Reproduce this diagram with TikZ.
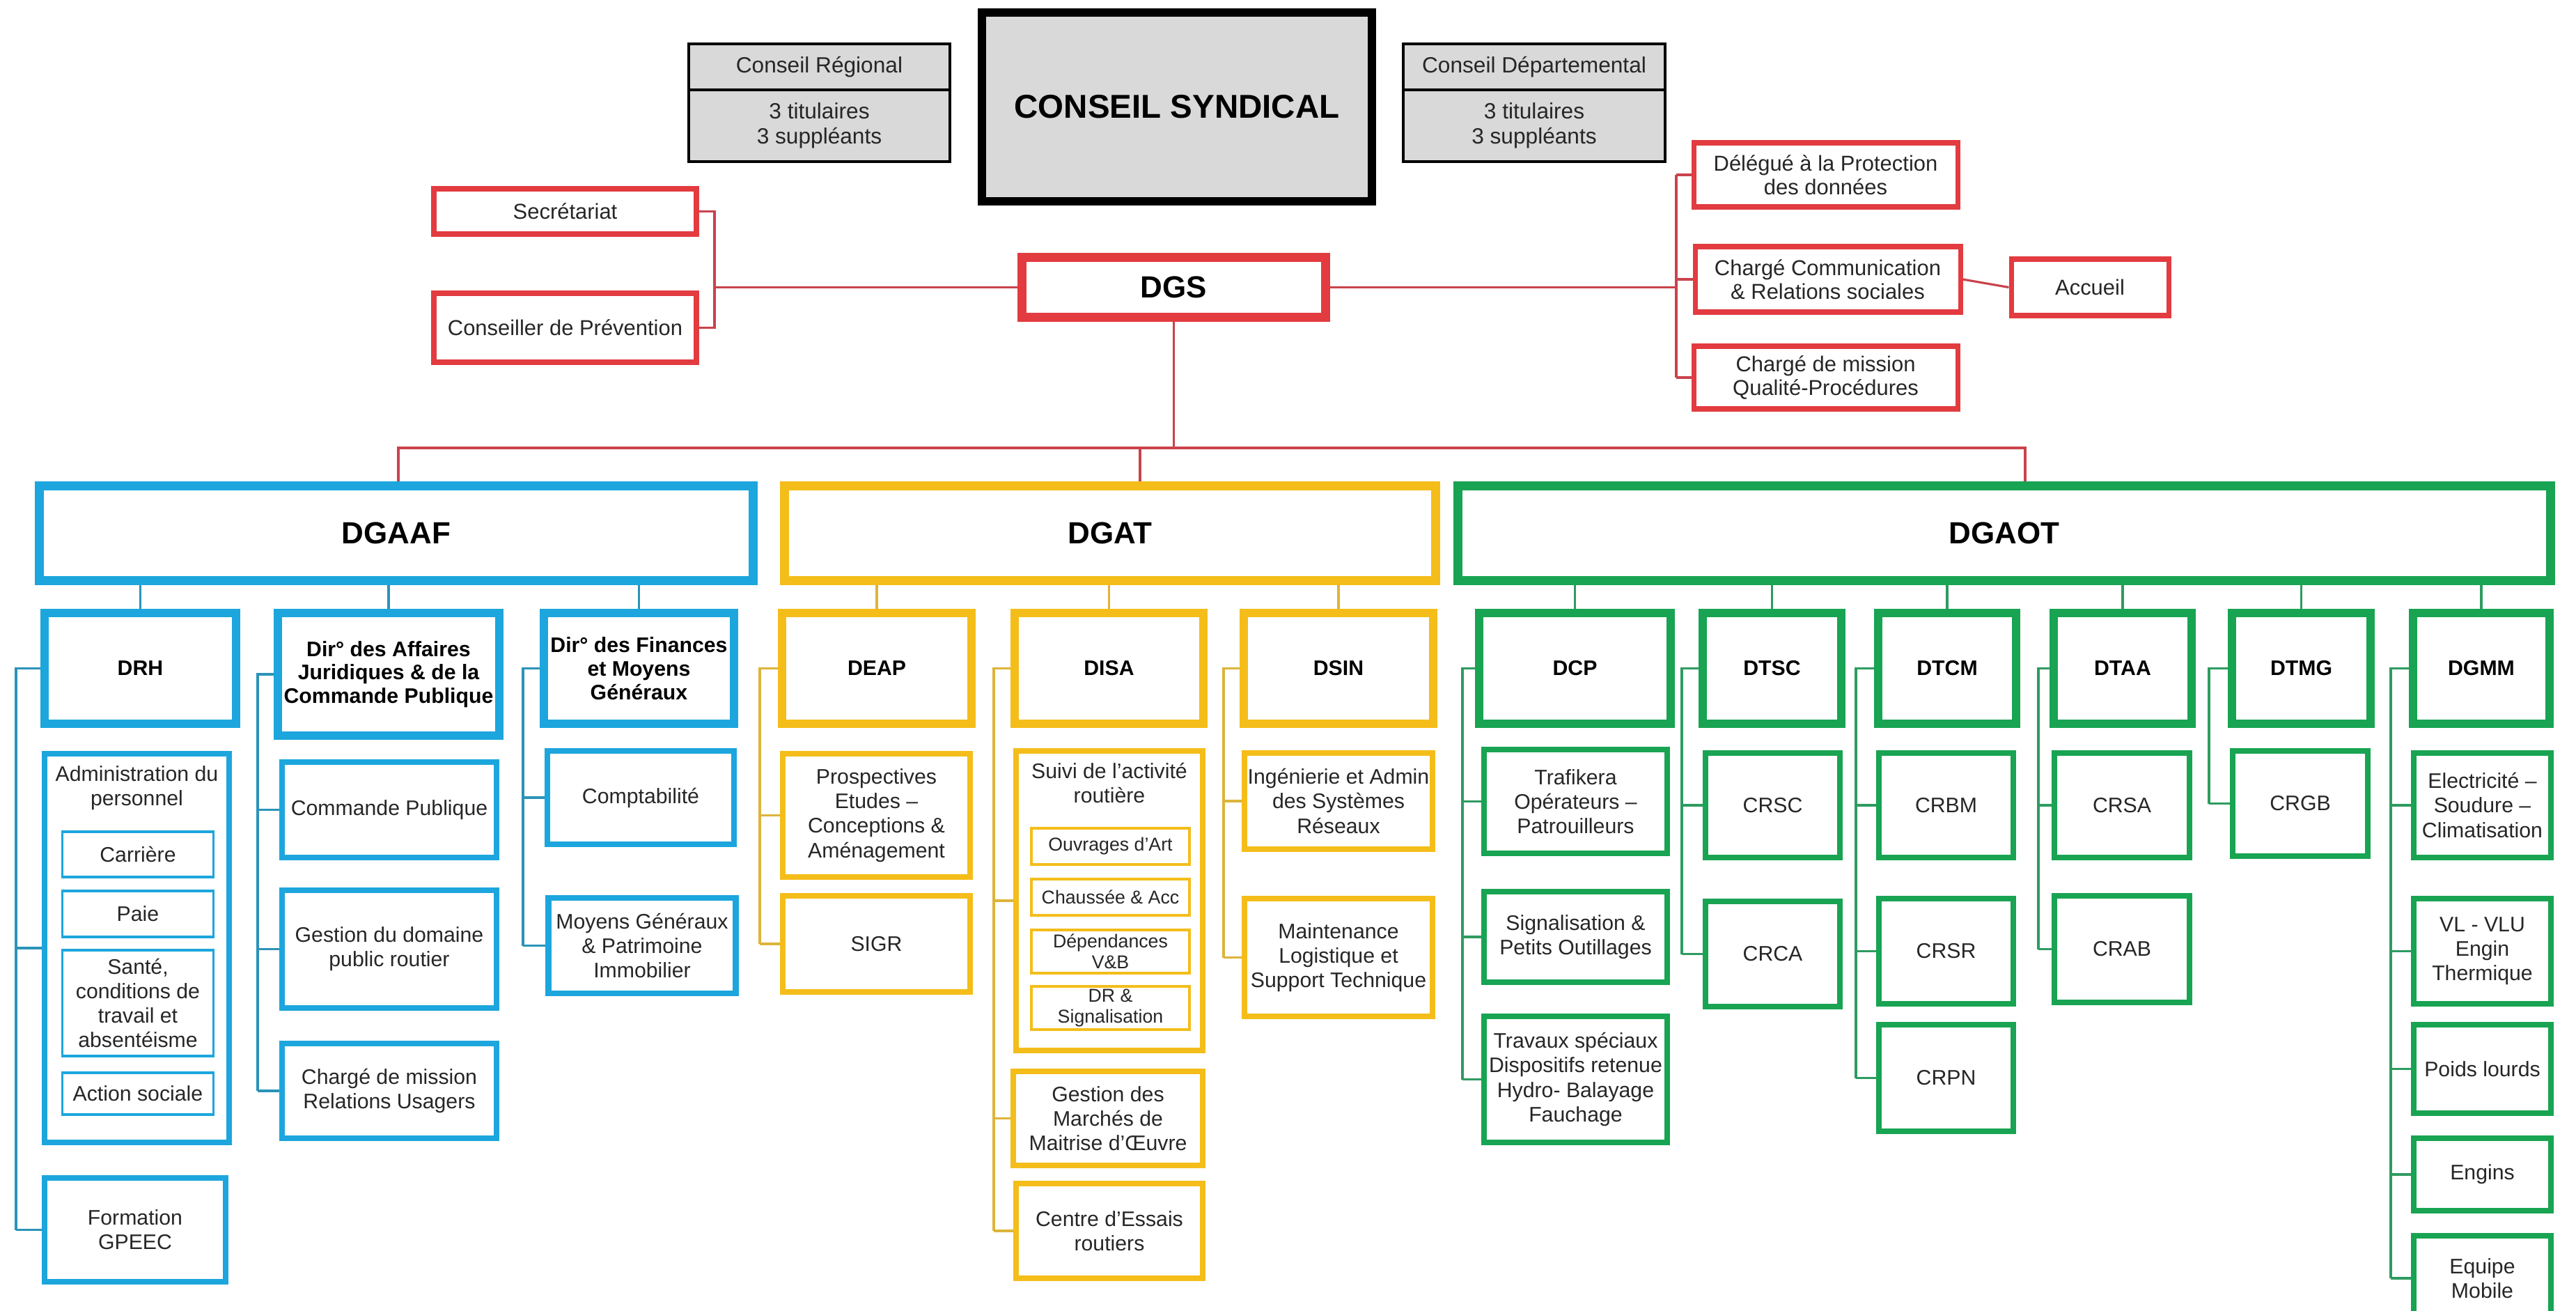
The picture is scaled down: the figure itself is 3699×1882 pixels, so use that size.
\documentclass[tikz,border=0pt]{standalone}
\usepackage{fontspec}
\setmainfont{Liberation Sans}
\definecolor{grisfond}{HTML}{D9D9D9}
\definecolor{rouge}{HTML}{E23B40}
\definecolor{rougetrait}{HTML}{C9434C}
\definecolor{bleu}{HTML}{1CA6DD}
\definecolor{bleutrait}{HTML}{2B93B8}
\definecolor{jaune}{HTML}{F4BD1A}
\definecolor{jaunetrait}{HTML}{DDB43A}
\definecolor{vert}{HTML}{18A452}
\definecolor{verttrait}{HTML}{2E9B60}
\definecolor{texte}{HTML}{262626}
\begin{document}
\begin{tikzpicture}[x=0.01cm,y=-0.01cm,line width=0.9pt,
  every node/.style={font=\fontsize{8.6}{10}\selectfont,align=center,inner sep=0pt,text=texte},
  sz/.style 2 args={minimum width=#1*0.01cm,minimum height=#2*0.01cm},
  gris/.style={draw=black,fill=grisfond,line width=1.3pt,font=\fontsize{9}{10.2}\selectfont},
  rbox/.style={draw=rouge,line width=2pt,font=\fontsize{8.8}{9.6}\selectfont},
  rlien/.style={draw=rougetrait,line width=0.9pt},
  pole/.style={draw=#1,line width=3.7pt,font=\bfseries\fontsize{12.5}{14}\selectfont,text=black},
  chef/.style={draw=#1,line width=3.5pt,font=\bfseries\fontsize{8.6}{9.6}\selectfont,text=black},
  svc/.style={draw=#1,line width=2.3pt},
  cell/.style={draw=#1,line width=1.1pt},
  lien/.style={draw=#1,line width=0.9pt},
  ttl/.style={anchor=north,align=center,inner sep=0pt,yshift=-0.2cm}]
\useasboundingbox (0,0) rectangle (3699,1882);
\node[gris,sz={375}{66}] (cr) at (1176.5,96) {Conseil Régional};
\node[gris,sz={375}{103}] (crn) at (1176.5,180.5) {3 titulaires\\3 suppléants};
\node[gris,line width=3.3pt,sz={560}{271},font=\bfseries\fontsize{13.5}{16}\selectfont,text=black] (cs) at (1690,153.5) {CONSEIL SYNDICAL};
\node[gris,sz={376}{66}] (cd) at (2203,96) {Conseil Départemental};
\node[gris,sz={376}{103}] (cdn) at (2203,180.5) {3 titulaires\\3 suppléants};
\node[rbox,sz={377}{65}] (secr) at (811.5,303.5) {Secrétariat};
\node[rbox,sz={377}{99}] (cdp) at (811.5,470.5) {Conseiller de Prévention};
\node[rbox,line width=3.5pt,sz={436}{86},font=\bfseries\fontsize{12.5}{14}\selectfont,text=black] (dgs) at (1685.5,412.5) {DGS};
\node[rbox,sz={379}{92}] (dpd) at (2621.5,251) {Délégué à la Protection\\des données};
\node[rbox,sz={381}{94}] (ccom) at (2624.5,401) {Chargé Communication\\\& Relations sociales};
\node[rbox,sz={379}{90}] (cmq) at (2621.5,542) {Chargé de mission\\Qualité-Procédures};
\node[rbox,sz={226}{81}] (acc) at (3001,412.5) {Accueil};
\coordinate (gB) at (1026,0);
\coordinate (dB) at (2407,0);
\draw[rlien] (secr.east) -- (secr.east -| gB) -- (cdp.east -| gB) -- (cdp.east);
\draw[rlien] (dgs.west) -- (dgs.west -| gB);
\draw[rlien] (dgs.east) -- (dgs.east -| dB);
\draw[rlien] (dpd.west -| dB) -- (cmq.west -| dB);
\foreach \n in {dpd,ccom,cmq} \draw[rlien] (\n.west -| dB) -- (\n.west);
\draw[rlien] (ccom.east) -- (acc.west);
\node[pole=bleu,sz={1025}{136}] (dgaaf) at (569,765.5) {DGAAF};
\node[pole=jaune,sz={935}{136}] (dgat) at (1594,765.5) {DGAT};
\node[pole=vert,sz={1569}{136}] (dgaot) at (2878,765.5) {DGAOT};
\coordinate (busG) at (572,643);
\coordinate (busC) at (1637,643);
\coordinate (busD) at (2908,643);
\draw[rlien] (dgs.south) -- (dgs.south |- busG);
\draw[rlien] (busG |- dgaaf.north) -- (busG) -- (busD) -- (busD |- dgaot.north);
\draw[rlien] (busC) -- (busC |- dgat.north);
\begin{scope}
\node[chef=bleu,sz={275}{159}] (drh) at (201.5,959.5) {DRH};
\node[chef=bleu,sz={318}{176}] (daj) at (558,968) {Dir° des Affaires\\Juridiques \& de la\\Commande Publique};
\node[chef=bleu,sz={273}{159}] (dfin) at (917.5,959.5) {Dir° des Finances\\et Moyens\\Généraux};
\node[svc=bleu,sz={265}{558},label={[ttl]north:{Administration du\\personnel}}] (adm) at (196.5,1361) {};
\node[cell=bleu,sz={217}{65}] (car) at (198,1226.5) {Carrière};
\node[cell=bleu,sz={217}{66}] (paie) at (198,1312) {Paie};
\node[cell=bleu,sz={217}{152}] (sante) at (198,1440) {Santé,\\conditions de\\travail et\\absentéisme};
\node[cell=bleu,sz={217}{60}] (acs) at (198,1570) {Action sociale};
\node[svc=bleu,sz={260}{149}] (form) at (194,1765.5) {Formation\\GPEEC};
\node[svc=bleu,sz={308}{137}] (cmdp) at (559,1162.5) {Commande Publique};
\node[svc=bleu,sz={308}{169}] (gdpr) at (559,1362.5) {Gestion du domaine\\public routier};
\node[svc=bleu,sz={308}{136}] (cmru) at (559,1566) {Chargé de mission\\Relations Usagers};
\node[svc=bleu,sz={268}{134}] (compta) at (920,1145) {Comptabilité};
\node[svc=bleu,sz={269}{137}] (mgpi) at (922,1357.5) {Moyens Généraux\\\& Patrimoine\\Immobilier};
\foreach \n in {drh,daj,dfin} \draw[lien=bleutrait] (\n.north) -- (\n.north |- dgaaf.south);
\coordinate (drhB) at (23,0);
\coordinate (dajB) at (370,0);
\coordinate (dfinB) at (751,0);
\draw[lien=bleutrait] (drh.west) -- (drh.west -| drhB) -- (form.west -| drhB);
\foreach \n in {adm,form} \draw[lien=bleutrait] (\n.west -| drhB) -- (\n.west);
\draw[lien=bleutrait] (daj.west) -- (daj.west -| dajB) -- (cmru.west -| dajB);
\foreach \n in {cmdp,gdpr,cmru} \draw[lien=bleutrait] (\n.west -| dajB) -- (\n.west);
\draw[lien=bleutrait] (dfin.west) -- (dfin.west -| dfinB) -- (mgpi.west -| dfinB);
\foreach \n in {compta,mgpi} \draw[lien=bleutrait] (\n.west -| dfinB) -- (\n.west);
\end{scope}
\begin{scope}
\node[chef=jaune,sz={272}{159}] (deap) at (1259,959.5) {DEAP};
\node[chef=jaune,sz={271}{159}] (disa) at (1592.5,959.5) {DISA};
\node[chef=jaune,sz={272}{159}] (dsin) at (1922,959.5) {DSIN};
\node[svc=jaune,sz={269}{177}] (prosp) at (1258.5,1170.5) {Prospectives\\Etudes –\\Conceptions \&\\Aménagement};
\node[svc=jaune,sz={269}{138}] (sigr) at (1258.5,1355) {SIGR};
\node[svc=jaune,sz={268}{430},label={[ttl]north:{Suivi de l’activité\\routière}}] (suivi) at (1593,1293) {};
\node[cell=jaune,sz={227}{52},font=\fontsize{7.6}{8.6}\selectfont] (oa) at (1594.5,1215) {Ouvrages d’Art};
\node[cell=jaune,sz={227}{52},font=\fontsize{7.6}{8.6}\selectfont] (chac) at (1594.5,1288) {Chaussée \& Acc};
\node[cell=jaune,sz={227}{62},font=\fontsize{7.6}{8.6}\selectfont] (dvb) at (1594.5,1366) {Dépendances\\V\&B};
\node[cell=jaune,sz={227}{62},font=\fontsize{7.6}{8.6}\selectfont] (drs) at (1594.5,1447) {DR \&\\Signalisation};
\node[svc=jaune,sz={272}{135}] (gmmo) at (1591,1605.5) {Gestion des\\Marchés de\\Maitrise d’Œuvre};
\node[svc=jaune,sz={268}{136}] (cer) at (1593,1767) {Centre d’Essais\\routiers};
\node[svc=jaune,sz={270}{138}] (isr) at (1922,1150) {Ingénierie et Admin\\des Systèmes\\Réseaux};
\node[svc=jaune,sz={270}{169}] (mlst) at (1922,1374.5) {Maintenance\\Logistique et\\Support Technique};
\foreach \n in {deap,disa,dsin} \draw[lien=jaunetrait] (\n.north) -- (\n.north |- dgat.south);
\coordinate (deapB) at (1091,0);
\coordinate (disaB) at (1427,0);
\coordinate (dsinB) at (1757,0);
\draw[lien=jaunetrait] (deap.west) -- (deap.west -| deapB) -- (sigr.west -| deapB);
\foreach \n in {prosp,sigr} \draw[lien=jaunetrait] (\n.west -| deapB) -- (\n.west);
\draw[lien=jaunetrait] (disa.west) -- (disa.west -| disaB) -- (cer.west -| disaB);
\foreach \n in {suivi,gmmo,cer} \draw[lien=jaunetrait] (\n.west -| disaB) -- (\n.west);
\draw[lien=jaunetrait] (dsin.west) -- (dsin.west -| dsinB) -- (mlst.west -| dsinB);
\foreach \n in {isr,mlst} \draw[lien=jaunetrait] (\n.west -| dsinB) -- (\n.west);
\end{scope}
\begin{scope}
\node[chef=vert,sz={275}{159}] (dcp) at (2261.5,959.5) {DCP};
\node[chef=vert,sz={199}{159}] (dtsc) at (2544.5,959.5) {DTSC};
\node[chef=vert,sz={198}{159}] (dtcm) at (2796,959.5) {DTCM};
\node[chef=vert,sz={198}{159}] (dtaa) at (3048,959.5) {DTAA};
\node[chef=vert,sz={199}{159}] (dtmg) at (3304.5,959.5) {DTMG};
\node[chef=vert,sz={196}{159}] (dgmm) at (3563,959.5) {DGMM};
\node[svc=vert,sz={263}{149}] (traf) at (2262.5,1150.5) {Trafikera\\Opérateurs –\\Patrouilleurs};
\node[svc=vert,sz={263}{130}] (spo) at (2262.5,1345) {Signalisation \&\\Petits Outillages};
\node[svc=vert,sz={263}{181}] (tsp) at (2262.5,1549.5) {Travaux spéciaux\\Dispositifs retenue\\Hydro- Balayage\\Fauchage};
\node[svc=vert,sz={193}{150}] (crsc) at (2545.5,1156) {CRSC};
\node[svc=vert,sz={193}{151}] (crca) at (2545.5,1369.5) {CRCA};
\node[svc=vert,sz={193}{150}] (crbm) at (2794.5,1156) {CRBM};
\node[svc=vert,sz={193}{151}] (crsr) at (2794.5,1365.5) {CRSR};
\node[svc=vert,sz={193}{153}] (crpn) at (2794.5,1547.5) {CRPN};
\node[svc=vert,sz={194}{150}] (crsa) at (3047,1156) {CRSA};
\node[svc=vert,sz={194}{153}] (crab) at (3047,1362.5) {CRAB};
\node[svc=vert,sz={194}{151}] (crgb) at (3303,1153.5) {CRGB};
\node[svc=vert,sz={197}{150}] (esc) at (3564.5,1156) {Electricité –\\Soudure –\\Climatisation};
\node[svc=vert,sz={197}{151}] (vlu) at (3564.5,1365.5) {VL - VLU\\Engin\\Thermique};
\node[svc=vert,sz={197}{127}] (pl) at (3564.5,1534.5) {Poids lourds};
\node[svc=vert,sz={197}{104}] (eng) at (3564.5,1686) {Engins};
\node[svc=vert,sz={197}{122}] (eqm) at (3564.5,1835) {Equipe\\Mobile};
\foreach \n in {dcp,dtsc,dtcm,dtaa,dtmg,dgmm} \draw[lien=verttrait] (\n.north) -- (\n.north |- dgaot.south);
\coordinate (dcpB) at (2100,0);
\coordinate (dtscB) at (2415,0);
\coordinate (dtcmB) at (2665,0);
\coordinate (dtaaB) at (2927,0);
\coordinate (dtmgB) at (3172,0);
\coordinate (dgmmB) at (3433,0);
\draw[lien=verttrait] (dcp.west) -- (dcp.west -| dcpB) -- (tsp.west -| dcpB);
\foreach \n in {traf,spo,tsp} \draw[lien=verttrait] (\n.west -| dcpB) -- (\n.west);
\draw[lien=verttrait] (dtsc.west) -- (dtsc.west -| dtscB) -- (crca.west -| dtscB);
\foreach \n in {crsc,crca} \draw[lien=verttrait] (\n.west -| dtscB) -- (\n.west);
\draw[lien=verttrait] (dtcm.west) -- (dtcm.west -| dtcmB) -- (crpn.west -| dtcmB);
\foreach \n in {crbm,crsr,crpn} \draw[lien=verttrait] (\n.west -| dtcmB) -- (\n.west);
\draw[lien=verttrait] (dtaa.west) -- (dtaa.west -| dtaaB) -- (crab.west -| dtaaB);
\foreach \n in {crsa,crab} \draw[lien=verttrait] (\n.west -| dtaaB) -- (\n.west);
\draw[lien=verttrait] (dtmg.west) -- (dtmg.west -| dtmgB) -- (crgb.west -| dtmgB);
\draw[lien=verttrait] (crgb.west -| dtmgB) -- (crgb.west);
\draw[lien=verttrait] (dgmm.west) -- (dgmm.west -| dgmmB) -- (eqm.west -| dgmmB);
\foreach \n in {esc,vlu,pl,eng,eqm} \draw[lien=verttrait] (\n.west -| dgmmB) -- (\n.west);
\end{scope}
\end{tikzpicture}
\end{document}
